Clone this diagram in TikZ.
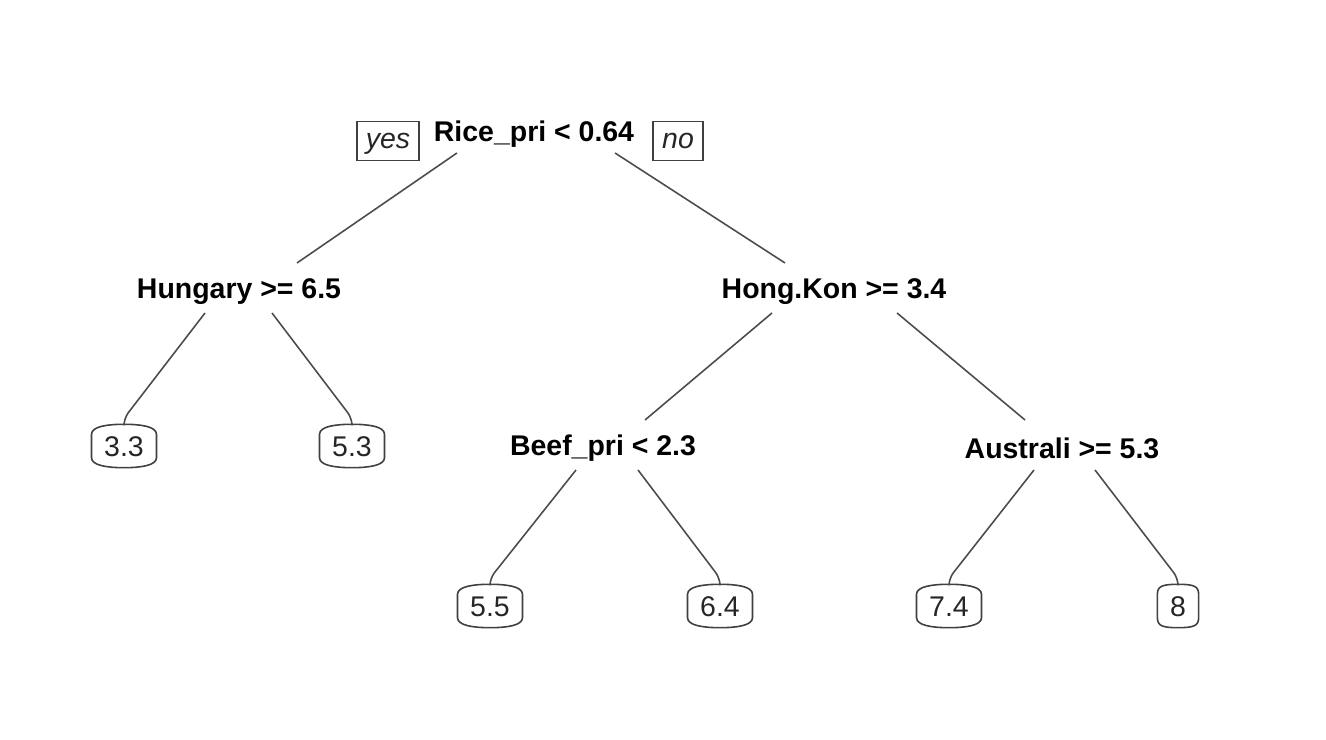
\documentclass[tikz,border=0pt]{standalone}
\usepackage{fontspec}
\setmainfont{Liberation Sans}
\usetikzlibrary{calc}

\newcommand{\treefont}{\fontsize{8.1}{9.7}\selectfont}

\begin{document}
\begin{tikzpicture}[
        % --- STILURI ---
        % 1. Nodurile de decizie (text îngroșat)
        split/.style={
                font=\treefont\bfseries,
                text=black,
                inner sep=0pt
            },
        % 2. Frunzele (valorile prezise)
        leaf/.style={
                font=\treefont,
                text=black!85,
                inner xsep=0.12cm,
                inner ysep=0pt,
                text height=5.8pt,
                text depth=0pt,
                minimum height=0.42cm
            },
        % 3. Conturul frunzelor
        leafline/.style={
                draw=black!75,
                line width=0.45pt
            },
        % 4. Etichetele yes / no
        tag/.style={
                draw=black!75,
                font=\treefont\itshape,
                text=black!85,
                inner xsep=0.09cm,
                inner ysep=0pt,
                text height=6pt,
                text depth=1.7pt,
                minimum height=0.39cm
            },
        % 5. Ramurile
        branch/.style={
                draw=black!70,
                line width=0.45pt
            }
    ]

    \fill[white] (0,0) rectangle (13.26,7.40);
    \useasboundingbox (0,0) rectangle (13.26,7.40);

    % 1. Nodurile de decizie
    \node[split] (rice) at (5.34,6.06) {Rice\_pri < 0.64};
    \node[split] (hung) at (2.39,4.48) {Hungary >= 6.5};
    \node[split] (hong) at (8.34,4.48) {Hong.Kon >= 3.4};
    \node[split] (beef) at (6.03,2.92) {Beef\_pri < 2.3};
    \node[split] (aus) at (10.62,2.92) {Australi >= 5.3};

    % 2. Etichetele ramurilor din rădăcină
    \node[tag] (yes) at (3.88,5.99) {yes};
    \node[tag] (no) at (6.78,5.99) {no};

    % 3. Frunzele
    \node[leaf] (l33) at (1.24,2.94) {3.3};
    \node[leaf] (l53) at (3.52,2.94) {5.3};
    \node[leaf] (l55) at (4.90,1.34) {5.5};
    \node[leaf] (l64) at (7.20,1.34) {6.4};
    \node[leaf] (l74) at (9.49,1.34) {7.4};
    \node[leaf] (l8) at (11.78,1.34) {8};

    % contur rotunjit al frunzelor
    \foreach \n in {l33,l53,l55,l64,l74,l8}
    \draw[leafline] ([yshift=-0.1cm]\n.north west)
    .. controls +(0,0.08) and +(-0.16,0) .. (\n.north)
    .. controls +(0.16,0) and +(0,0.08) .. ([yshift=-0.1cm]\n.north east)
    -- ([yshift=0.1cm]\n.south east)
    .. controls +(0,-0.08) and +(0.16,0) .. (\n.south)
    .. controls +(-0.16,0) and +(0,-0.08) .. ([yshift=0.1cm]\n.south west)
    -- cycle;

    % 4. Ramuri între nodurile de decizie
    \draw[branch] ([shift={(-0.77,-0.19)}]rice.center) -- ([shift={(0.58,0.29)}]hung.center);
    \draw[branch] ([shift={(0.81,-0.19)}]rice.center) -- ([shift={(-0.49,0.29)}]hong.center);
    \draw[branch] ([shift={(-0.62,-0.21)}]hong.center) -- ([shift={(0.42,0.28)}]beef.center);
    \draw[branch] ([shift={(0.63,-0.21)}]hong.center) -- ([shift={(-0.37,0.28)}]aus.center);

    % 5. Ramuri spre frunze (cu mică curbură la capăt)
    \draw[branch, rounded corners=2pt] ([shift={(-0.34,-0.21)}]hung.center) -- ([yshift=0.06cm]l33.north) -- (l33.north);
    \draw[branch, rounded corners=2pt] ([shift={(0.33,-0.21)}]hung.center) -- ([yshift=0.06cm]l53.north) -- (l53.north);
    \draw[branch, rounded corners=2pt] ([shift={(-0.27,-0.22)}]beef.center) -- ([yshift=0.06cm]l55.north) -- (l55.north);
    \draw[branch, rounded corners=2pt] ([shift={(0.35,-0.22)}]beef.center) -- ([yshift=0.06cm]l64.north) -- (l64.north);
    \draw[branch, rounded corners=2pt] ([shift={(-0.28,-0.22)}]aus.center) -- ([yshift=0.06cm]l74.north) -- (l74.north);
    \draw[branch, rounded corners=2pt] ([shift={(0.33,-0.22)}]aus.center) -- ([yshift=0.06cm]l8.north) -- (l8.north);

\end{tikzpicture}
\end{document}
